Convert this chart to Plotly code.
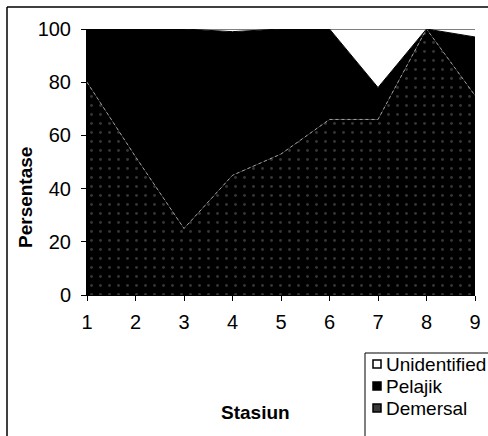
import plotly.graph_objects as go

stasiun = [1, 2, 3, 4, 5, 6, 7, 8, 9]
demersal = [80, 52, 25, 45, 53, 66, 66, 100, 75]
pelajik = [20, 48, 75, 54, 47, 34, 12, 0, 22]
unidentified = [0, 0, 0, 1, 0, 0, 22, 0, 3]
y_ticks = [0, 20, 40, 60, 80, 100]
legend_names = ["Unidentified", "Pelajik", "Demersal"]

fig = go.Figure()
fig.add_trace(go.Scatter(
    x=stasiun, y=demersal, name="Demersal", stackgroup="one", mode="lines",
    line=dict(color="#a0a0a0", width=1, dash="dot"),
    fillcolor="#000000",
    fillpattern=dict(shape=".", bgcolor="#000000", fgcolor="#6a6a6a", size=9, solidity=0.08),
))
fig.add_trace(go.Scatter(
    x=stasiun, y=pelajik, name="Pelajik", stackgroup="one", mode="lines",
    line=dict(color="#000000", width=1), fillcolor="#000000",
))
fig.add_trace(go.Scatter(
    x=stasiun, y=unidentified, name="Unidentified", stackgroup="one", mode="lines",
    line=dict(color="#000000", width=1), fillcolor="#ffffff",
))

W, H = 488, 436
L, R, T, B = 87, 13, 29, 141
pw, ph = W - L - R, H - T - B

def px(x):
    return (x - L) / pw

def py(y):
    return (H - B - y) / ph

font = "Liberation Sans, Arial"

shapes = [
    dict(type="line", xref="paper", yref="paper", x0=px(7), x1=px(7), y0=py(440), y1=py(7),
         line=dict(color="black", width=1.5)),
    dict(type="line", xref="paper", yref="paper", x0=px(7), x1=px(490), y0=py(7), y1=py(7),
         line=dict(color="black", width=1.5)),
    dict(type="rect", xref="paper", yref="paper", x0=px(365), x1=px(492), y0=py(440), y1=py(353),
         line=dict(color="black", width=1), fillcolor="white"),
]
annotations = [
    dict(text="<b>Stasiun</b>", x=px(255), y=py(412), xref="paper", yref="paper",
         showarrow=False, font=dict(size=19, family=font), xanchor="center", yanchor="middle"),
    dict(text="<b>Persentase</b>", x=px(25), y=py(198), xref="paper", yref="paper",
         showarrow=False, textangle=-90, font=dict(size=19, family=font),
         xanchor="center", yanchor="middle"),
]
legend_y = [364, 386, 408]
legend_fill = ["#ffffff", "#000000", "#3a3a3a"]
for name, ly, fc in zip(legend_names, legend_y, legend_fill):
    shapes.append(dict(type="rect", xref="paper", yref="paper",
                       x0=px(373), x1=px(381), y0=py(ly + 4), y1=py(ly - 4),
                       line=dict(color="black", width=1.5), fillcolor=fc))
    annotations.append(dict(text=name, x=px(384), y=py(ly), xref="paper", yref="paper",
                            showarrow=False, xanchor="left", yanchor="middle",
                            font=dict(size=19, family=font)))

fig.update_layout(
    width=W, height=H,
    margin=dict(l=L, r=R, t=T, b=B, autoexpand=False),
    paper_bgcolor="white", plot_bgcolor="white",
    font=dict(family=font, color="black"),
    showlegend=False,
    xaxis=dict(
        range=[1, 9], tickvals=stasiun, ticks="outside", ticklen=5,
        tickcolor="black", showline=True, linecolor="black", linewidth=1,
        showgrid=False, zeroline=False, tickfont=dict(size=20),
        ticklabelstandoff=4, automargin=False,
    ),
    yaxis=dict(
        range=[0, 100], tickvals=y_ticks, ticks="outside", ticklen=5,
        tickcolor="black", showline=True, linecolor="black", linewidth=1,
        showgrid=False, zeroline=False, tickfont=dict(size=20),
        ticklabelstandoff=6, automargin=False,
    ),
    annotations=annotations,
    shapes=shapes,
)

fig.write_html("out.html")
